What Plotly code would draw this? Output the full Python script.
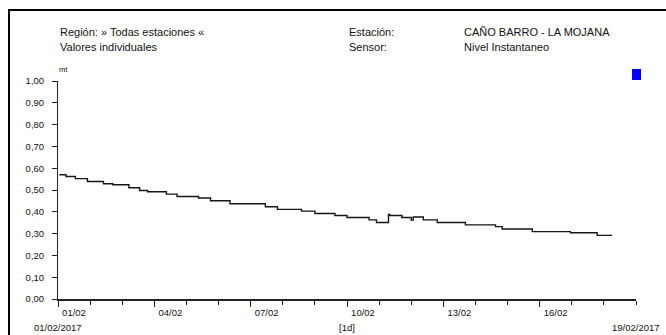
import plotly.graph_objects as go

# ---- data ----
times = [
    '2017-02-01 01:00', '2017-02-01 06:00', '2017-02-01 13:00', '2017-02-01 22:00',
    '2017-02-02 10:00', '2017-02-02 17:00', '2017-02-03 05:00', '2017-02-03 13:00',
    '2017-02-03 19:00', '2017-02-04 09:00', '2017-02-04 17:00', '2017-02-05 09:00',
    '2017-02-05 18:00', '2017-02-06 08:30', '2017-02-07 11:00', '2017-02-07 20:00',
    '2017-02-08 14:00', '2017-02-09 00:00', '2017-02-09 15:00', '2017-02-10 00:00',
    '2017-02-10 16:30', '2017-02-10 22:00', '2017-02-11 07:00', '2017-02-11 08:00',
    '2017-02-11 17:00', '2017-02-12 00:00', '2017-02-12 01:30', '2017-02-12 09:00',
    '2017-02-12 19:30', '2017-02-13 16:30', '2017-02-14 15:00', '2017-02-14 20:00',
    '2017-02-15 18:30', '2017-02-16 23:00', '2017-02-17 19:00', '2017-02-18 06:00',
]
nivel = [
    0.570, 0.562, 0.552, 0.539,
    0.529, 0.524, 0.510, 0.498,
    0.492, 0.481, 0.470, 0.463,
    0.451, 0.437, 0.423, 0.411,
    0.403, 0.392, 0.383, 0.374,
    0.363, 0.351, 0.388, 0.383,
    0.374, 0.362, 0.376, 0.363,
    0.351, 0.340, 0.332, 0.321,
    0.309, 0.304, 0.292, 0.292,
]

x_start = '2017-02-01'
x_end = '2017-02-19'
x_mid = '2017-02-10'
major_ticks = ['2017-02-01', '2017-02-04', '2017-02-07', '2017-02-10', '2017-02-13', '2017-02-16']
major_labels = ['01/02', '04/02', '07/02', '10/02', '13/02', '16/02']
day_ticks = ['2017-02-%02d' % d for d in range(1, 20)]
y_ticks = [0.0, 0.1, 0.2, 0.3, 0.4, 0.5, 0.6, 0.7, 0.8, 0.9, 1.0]

title_left = ['Región: » Todas estaciones «', 'Valores individuales']
title_mid = ['Estación:', 'Sensor:']
title_right = ['CAÑO BARRO - LA MOJANA', 'Nivel Instantaneo']
unit = 'mt'
date_start_label = '01/02/2017'
interval_label = '[1d]'
date_end_label = '19/02/2017'

# ---- layout geometry (pixels) ----
W, H = 666, 335
ML, MR, MT, MB = 58, 30, 81, 36
PW, PH = W - ML - MR, H - MT - MB


def px(x):
    return (x - ML) / PW


def py(y):
    return (H - MB - y) / PH


FONT = 'Liberation Sans, Arial, sans-serif'
TXT = '#111111'

fig = go.Figure()
fig.add_trace(go.Scatter(
    x=times, y=nivel, mode='lines', line=dict(color='#151515', width=1.4, shape='hv'),
    showlegend=False, hoverinfo='skip'))

annotations = []
for i, t in enumerate(title_left):
    annotations.append(dict(text=t, x=px(58), y=py(32 + 15 * i)))
for i, t in enumerate(title_mid):
    annotations.append(dict(text=t, x=px(347), y=py(32 + 15 * i)))
for i, t in enumerate(title_right):
    annotations.append(dict(text=t, x=px(462), y=py(32 + 15 * i)))
for a in annotations:
    a.update(xref='paper', yref='paper', xanchor='left', yanchor='middle', showarrow=False,
             font=dict(family=FONT, size=11, color=TXT))
annotations.append(dict(text=unit, x=px(56.5), y=py(69.5), xref='paper', yref='paper',
                        xanchor='left', yanchor='middle', showarrow=False,
                        font=dict(family=FONT, size=7.5, color=TXT)))
for xv, t in [(x_start, date_start_label), (x_mid, interval_label), (x_end, date_end_label)]:
    annotations.append(dict(text=t, x=xv, xref='x', y=py(327.5), yref='paper',
                            xanchor='center', yanchor='middle', showarrow=False,
                            font=dict(family=FONT, size=9.5, color=TXT)))

shapes = [
    # outer frame (partly outside the picture)
    dict(type='rect', xref='paper', yref='paper', x0=px(9), x1=px(680), y0=py(350), y1=py(10),
         line=dict(color='black', width=2), fillcolor='rgba(0,0,0,0)', layer='above'),
    # blue marker square
    dict(type='rect', xref='paper', yref='paper', x0=px(632), x1=px(641), y0=py(80), y1=py(69),
         line=dict(width=0), fillcolor='#0000ff'),
]

fig.update_layout(
    width=W, height=H, autosize=False,
    margin=dict(l=ML, r=MR, t=MT, b=MB, pad=0),
    paper_bgcolor='white', plot_bgcolor='white',
    separators=',.',
    showlegend=False,
    annotations=annotations,
    shapes=shapes,
    xaxis=dict(
        type='date', range=[x_start, x_end],
        tickmode='array', tickvals=major_ticks, ticktext=major_labels,
        ticks='outside', ticklen=6, tickwidth=1, tickcolor='#222',
        ticklabelshift=16, ticklabelstandoff=-2,
        minor=dict(tickmode='array', tickvals=day_ticks, ticks='outside', ticklen=4,
                   tickwidth=1, tickcolor='#222', showgrid=False),
        showline=True, linecolor='#222', linewidth=2,
        showgrid=False, zeroline=False,
        tickfont=dict(family=FONT, size=9.5, color=TXT),
    ),
    yaxis=dict(
        range=[0, 1.0], tickmode='array', tickvals=y_ticks, tickformat='.2f',
        ticks='outside', ticklen=5, tickwidth=1, tickcolor='#222',
        ticklabelstandoff=6,
        showline=True, linecolor='#222', linewidth=1,
        showgrid=False, zeroline=False,
        tickfont=dict(family=FONT, size=9.5, color=TXT),
    ),
)

fig.write_html('out.html', config={'displayModeBar': False},
               post_script="document.body.style.margin='0';document.body.style.overflow='hidden';")
